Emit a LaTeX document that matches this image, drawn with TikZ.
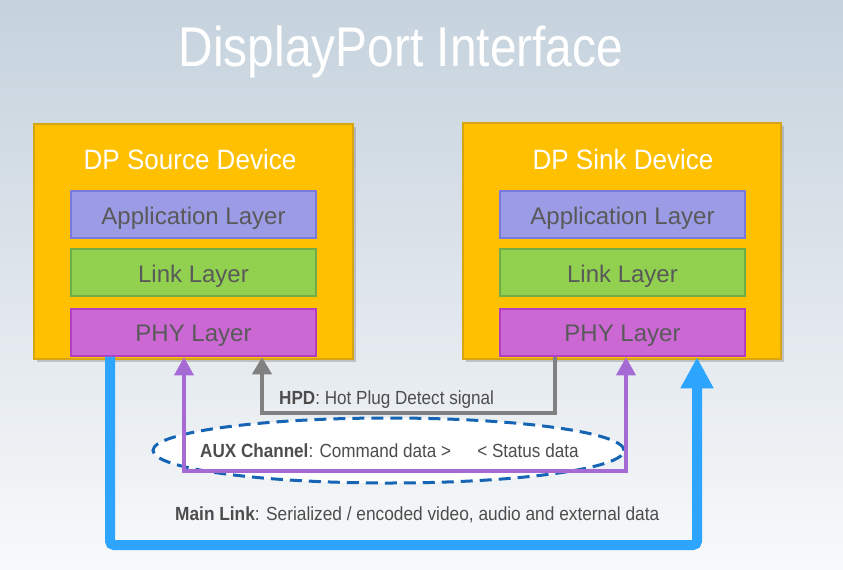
\documentclass[tikz,border=0pt]{standalone}
\usepackage{fontspec}
\setmainfont{Liberation Sans}
\usetikzlibrary{arrows.meta,shadows,shapes.geometric}
\definecolor{bgtop}{RGB}{197,210,221}
\definecolor{bgmid}{RGB}{228,234,239}
\definecolor{bgbot}{RGB}{248,249,250}
\definecolor{devfill}{RGB}{255,192,0}
\definecolor{devdraw}{RGB}{214,164,20}
\definecolor{appfill}{RGB}{156,156,230}
\definecolor{appdraw}{RGB}{122,122,222}
\definecolor{linkfill}{RGB}{146,208,80}
\definecolor{linkdraw}{RGB}{112,173,71}
\definecolor{phyfill}{RGB}{204,104,212}
\definecolor{phydraw}{RGB}{180,62,192}
\definecolor{laytext}{RGB}{89,89,89}
\definecolor{lbltext}{RGB}{77,77,77}
\definecolor{mainblue}{RGB}{45,165,255}
\definecolor{auxpurple}{RGB}{165,106,211}
\definecolor{hpdgray}{RGB}{128,128,128}
\definecolor{elldash}{RGB}{22,100,180}
\begin{document}
\begin{tikzpicture}[x=1pt,y=-1pt,
  devbox/.style={draw=devdraw,fill=devfill,line width=2.5pt,minimum width=319pt,minimum height=235pt,inner sep=0pt,
    drop shadow={shadow xshift=2.5pt,shadow yshift=-2.5pt,opacity=0.3,fill=black!60}},
  devtitle/.style={anchor=base,text=white,font=\fontsize{28}{32}\selectfont,inner sep=0pt},
  layer/.style={line width=2pt,minimum width=245pt,minimum height=47pt,inner sep=0pt,text=laytext,
    font=\fontsize{24}{28}\selectfont,text height=19.5pt,text depth=0pt},
  applayer/.style={layer,draw=appdraw,fill=appfill},
  linklayer/.style={layer,draw=linkdraw,fill=linkfill},
  phylayer/.style={layer,draw=phydraw,fill=phyfill},
  lbl/.style={anchor=base west,inner sep=0pt,text=lbltext,font=\fontsize{19}{22}\selectfont},
  mainlink/.style={draw=mainblue,line width=10pt,rounded corners=4pt,-{Triangle[width=31pt,length=31pt]}},
  auxline/.style={draw=auxpurple,line width=3.5pt,{Triangle[width=19pt,length=18pt]}-{Triangle[width=19pt,length=18pt]}},
  hpdline/.style={draw=hpdgray,line width=4pt,-{Triangle[width=19pt,length=17pt]}},
  auxell/.style={ellipse,draw=elldash,fill=white,line width=3pt,dash pattern=on 12pt off 7pt,
    minimum width=471pt,minimum height=65pt,inner sep=0pt}
]
\useasboundingbox (0,0) rectangle (843,570);
\shade[top color=bgtop,middle color=bgmid,bottom color=bgbot] (0,0) rectangle (843,570);

\node[anchor=base,text=white,inner sep=0pt,font=\fontsize{56}{60}\selectfont] (title) at (401,66)
  {\scalebox{0.855}[1]{DisplayPort Interface}};

% devices
\node[devbox] (src) at (193.5,241.5) {};
\node[devbox,minimum width=318pt,minimum height=236pt] (snk) at (622,241) {};
\node[devtitle] (srct) at (190,169) {\scalebox{0.93}[1]{DP Source Device}};
\node[devtitle] (snkt) at (623,169) {\scalebox{0.93}[1]{DP Sink Device}};

\node[applayer] (srcapp) at (193.5,214.5) {Application Layer};
\node[linklayer] (srclink) at (193.5,272.5) {Link Layer};
\node[phylayer] (srcphy) at (193.5,332) {PHY Layer};
\node[applayer] (snkapp) at (622.5,214.5) {Application Layer};
\node[linklayer] (snklink) at (622.5,272.5) {Link Layer};
\node[phylayer] (snkphy) at (622.5,332) {PHY Layer};

% connectors
\coordinate (mlA) at (110,545);
\coordinate (mlB) at (697,545);
\draw[mainlink] (srcphy.south -| mlA) -- (mlA) -- (mlB) -- ([yshift=3pt]snk.south -| mlB);

\node[auxell] (auxe) at (388.5,450.5) {};

\coordinate (hpdA) at (555,413);
\coordinate (hpdB) at (262,413);
\draw[hpdline] (snkphy.south -| hpdA) -- (hpdA) -- (hpdB) -- ([yshift=3pt]src.south -| hpdB);

\coordinate (auxA) at (184,471);
\coordinate (auxB) at (626,471);
\draw[auxline] ([yshift=3pt]src.south -| auxA) -- (auxA) -- (auxB) -- ([yshift=3pt]snk.south -| auxB);

% labels
\node[lbl] (hpdlbl) at (279,404) {\scalebox{0.9}[1]{\textbf{HPD}: Hot Plug Detect signal}};
\node[lbl] (auxlbl) at (200,457) {\scalebox{0.9}[1]{\textbf{AUX Channel}: Command data >\hspace{29pt}< Status data}};
\node[lbl] (mainlbl) at (175,520) {\scalebox{0.91}[1]{\textbf{Main Link}: Serialized / encoded video, audio and external data}};
\end{tikzpicture}
\end{document}
